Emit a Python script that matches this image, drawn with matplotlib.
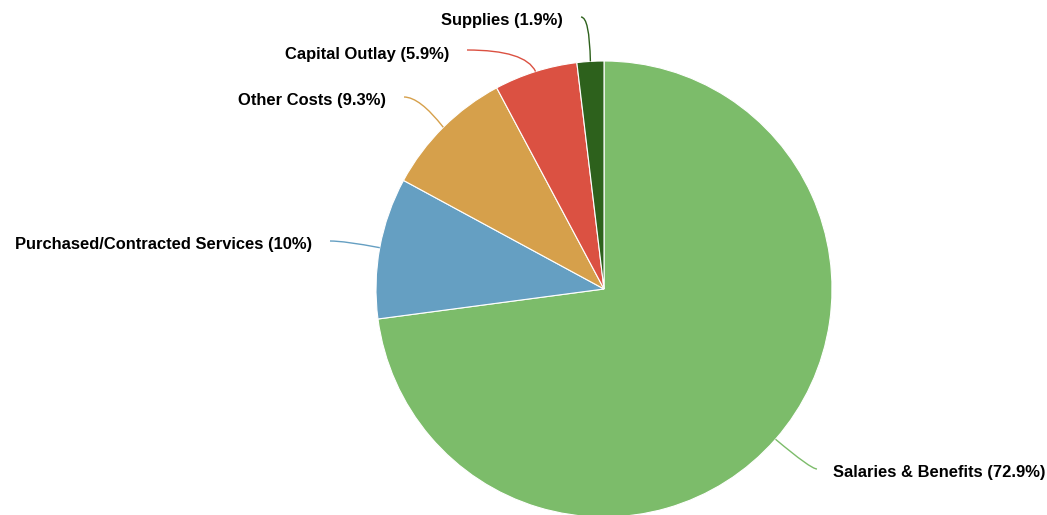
import matplotlib.pyplot as plt
import numpy as np
from matplotlib.path import Path
from matplotlib.patches import PathPatch

# budget breakdown
categories = ["Salaries & Benefits", "Purchased/Contracted Services",
              "Other Costs", "Capital Outlay", "Supplies"]
shares = [72.9, 10.0, 9.3, 5.9, 1.9]
pct_labels = ["72.9%", "10%", "9.3%", "5.9%", "1.9%"]
colors = ["#7cbc6a", "#659fc2", "#d6a04b", "#db5142", "#2d611c"]

W, H = 1047, 515
fig = plt.figure(figsize=(W / 100, H / 100), dpi=100)
ax = fig.add_axes([0, 0, 1, 1])

cx, cy, r = 604, H - 289, 228
ax.pie(shares, colors=colors, startangle=90, counterclock=False,
       center=(cx, cy), radius=r, frame=True,
       wedgeprops=dict(edgecolor="white", linewidth=0.8))
ax.set_xlim(0, W)
ax.set_ylim(0, H)
ax.set_aspect("equal")
ax.axis("off")

# label anchor (pixel coords from top-left), side, connector bend
label_pos = [(817, 469, "left", 0.15), (330, 241, "right", 0.3),
             (404, 97, "right", 0.4), (467, 50, "right", 0.85),
             (581, 17, "right", 0.9)]

total = sum(shares)
cum = 0
for name, s, p, col, (lx, ly, side, bend) in zip(categories, shares, pct_labels,
                                                 colors, label_pos):
    mid = 90 - (cum + s / 2) / total * 360
    cum += s
    ex = cx + r * np.cos(np.radians(mid))
    ey = cy + r * np.sin(np.radians(mid))
    ly = H - ly
    ctrl = (lx + (ex - lx) * bend, ly)
    path = Path([(lx, ly), ctrl, (ex, ey)],
                [Path.MOVETO, Path.CURVE3, Path.CURVE3])
    ax.add_patch(PathPatch(path, fc="none", ec=col, lw=1))
    txt = f"{name} ({p})"
    ty = ly - 4
    if side == "left":
        ax.text(lx + 16, ty, txt, ha="left", va="center",
                fontsize=11.9, fontweight="bold", family="Liberation Sans")
    else:
        ax.text(lx - 18, ty, txt, ha="right", va="center",
                fontsize=11.9, fontweight="bold", family="Liberation Sans")

fig.savefig("out.png", dpi=100)
